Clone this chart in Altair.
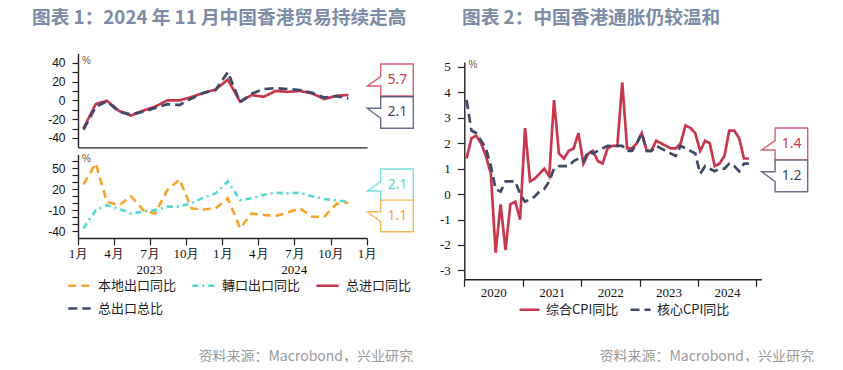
import altair as alt
import pandas as pd

# ------------------------------------------------------------------ data
title_left = "图表 1：2024 年 11 月中国香港贸易持续走高"
title_right = "图表 2：中国香港通胀仍较温和"
source_text = "资料来源：Macrobond，兴业研究"

trade_series = ["本地出口同比", "轉口出口同比", "总进口同比", "总出口总比"]
cpi_series = ["综合CPI同比", "核心CPI同比"]

trade_months = [f"{y}-{m:02d}-15" for y in (2023, 2024) for m in range(1, 13)][:23]
total_import_yoy = [-29.5, -3.9, -0.4, -11.3, -16.2, -10.9, -6.7, 0.0, 0.0, 3.5, 8.0, 11.5,
                    22.0, -1.5, 5.6, 3.8, 10.0, 9.0, 10.0, 7.4, 1.4, 4.9, 5.7]
total_export_yoy = [-31.0, -7.0, -1.0, -12.0, -15.0, -12.0, -8.0, -4.0, -5.0, 2.0, 8.0, 11.0,
                    30.0, -2.0, 7.0, 12.0, 13.0, 12.0, 11.0, 8.0, 3.0, 4.5, 2.1]
domestic_export_yoy = [27.0, 57.0, 2.0, -3.0, 10.0, -10.0, -15.0, 19.0, 34.0, -7.5, -9.0, -7.5,
                       7.0, -36.0, -15.0, -17.0, -18.5, -13.0, -7.5, -19.5, -19.5, -1.3, 1.1]
re_export_yoy = [-36.0, -10.0, -3.0, -8.0, -15.0, -12.0, -10.0, -5.0, -5.0, 0.0, 8.0, 14.0,
                 31.0, 4.5, 7.0, 12.0, 15.0, 14.0, 15.0, 10.0, 6.0, 4.0, 2.1]

cpi_months = [f"{y}-{m:02d}-15" for y in range(2020, 2025) for m in range(1, 13)][:59]
composite_cpi_yoy = [1.4, 2.2, 2.3, 2.0, 1.5, 0.8, -2.3, -0.4, -2.2, -0.4, -0.3, -1.0,
                     2.6, 0.5, 0.6, 0.8, 1.0, 0.7, 3.7, 1.6, 1.4, 1.7, 1.8, 2.4,
                     1.2, 1.6, 1.7, 1.3, 1.2, 1.8, 1.9, 1.9, 4.4, 1.8, 1.8, 2.0,
                     2.4, 1.7, 1.7, 2.1, 2.0, 1.9, 1.8, 1.8, 2.0, 2.7, 2.6, 2.4,
                     1.7, 2.1, 2.0, 1.1, 1.2, 1.5, 2.5, 2.5, 2.2, 1.4, 1.4]
core_cpi_yoy = [3.7, 2.5, 2.4, 2.1, 1.8, 1.1, 0.2, 0.1, 0.5, 0.5, 0.5, 0.0,
                -0.3, -0.2, -0.1, 0.1, 0.2, 0.5, 1.0, 1.1, 1.1, 1.1, 1.3, 1.4,
                1.3, 1.7, 1.6, 1.7, 1.8, 1.9, 1.9, 1.9, 1.9, 1.7, 1.7, 2.0,
                2.4, 1.7, 1.7, 1.9, 1.8, 1.7, 1.6, 1.5, 1.9, 1.8, 1.7, 1.6,
                0.8, 1.1, 1.0, 0.9, 1.0, 1.0, 1.2, 1.1, 0.9, 1.2, 1.2]

left_tick_months = [(2023, 1), (2023, 4), (2023, 7), (2023, 10),
                    (2024, 1), (2024, 4), (2024, 7), (2024, 10), (2025, 1)]
left_year_dates = ["2023-07-01", "2024-07-01"]
left_year_labels = ["2023", "2024"]
right_year_ticks = [2020, 2021, 2022, 2023, 2024, 2025]

# ------------------------------------------------------------------ styles
RED, NAVY, ORANGE, CYAN = "#c9374f", "#3e4a68", "#f5a52b", "#52d8d1"
TITLE_C, SRC_C, AX_C = "#7c8ba6", "#9a9a9a", "#222222"
CJK = "Noto Sans CJK SC"
W, H = 827, 354


def vx(p):
    """page pixel -> view pixel (8px page margin)"""
    return p - 8


def dt(y, m, d=1):
    return alt.DateTime(year=y, month=m, date=d)


common_axis = dict(grid=False, title=None, domainColor=AX_C, tickColor=AX_C,
                   domainWidth=1.4, tickWidth=1.2, labelColor="#111", labelFlush=False,
                   labelOverlap=False)

# ---------------------------------------------------------------- left top
trade_color = alt.Scale(domain=trade_series, range=[ORANGE, CYAN, RED, NAVY])
trade_dash = alt.Scale(domain=trade_series, range=[[8, 5], [6, 4, 2, 4], [1, 0], [9, 5]])

left_legend = alt.Legend(orient="none", legendX=vx(67), legendY=vx(273), columns=3,
                         direction="horizontal",
                         title=None, symbolType="stroke", symbolSize=500,
                         symbolStrokeWidth=2.6, labelFont=CJK, labelFontSize=13,
                         labelColor="#222", columnPadding=10, rowPadding=3,
                         labelOffset=6, padding=0, labelLimit=300)

tl_df = pd.DataFrame({
    "date": trade_months * 2,
    "value": total_import_yoy + total_export_yoy,
    "series": [trade_series[2]] * 23 + [trade_series[3]] * 23,
})

left_x_domain = [dt(2023, 1), dt(2025, 1)]
left_x_range = [vx(78), vx(367)]

top_left = alt.Chart(tl_df).mark_line(strokeWidth=2.7).encode(
    x=alt.X("date:T", scale=alt.Scale(domain=left_x_domain, range=left_x_range),
            axis=alt.Axis(orient="bottom", offset=vx(147.4) - H, labels=False, ticks=False,
                          **common_axis)),
    y=alt.Y("value:Q", scale=alt.Scale(domain=[-50, 50], range=[vx(147.4), vx(53.3)],
                                       nice=False, zero=False),
            axis=alt.Axis(orient="left", offset=-vx(78), values=list(range(-40, 41, 10)),
                          labelExpr="datum.value % 20 == 0 ? '' + datum.value : ''",
                          tickSize=6, labelPadding=7, labelFont="Liberation Sans",
                          labelFontSize=12, **common_axis)),
    color=alt.Color("series:N", scale=trade_color, legend=left_legend),
    strokeDash=alt.StrokeDash("series:N", scale=trade_dash, legend=left_legend),
    order=alt.Order("series:N", sort="descending"),
)

# ------------------------------------------------------------- left bottom
bl_df = pd.DataFrame({
    "date": trade_months * 2,
    "value": domestic_export_yoy + re_export_yoy,
    "series": [trade_series[0]] * 23 + [trade_series[1]] * 23,
})

bottom_lines = alt.Chart(bl_df).mark_line(strokeWidth=2.6).encode(
    x=alt.X("date:T", scale=alt.Scale(domain=left_x_domain, range=left_x_range),
            axis=alt.Axis(orient="bottom", offset=vx(238) - H,
                          values=[dt(y, m) for y, m in left_tick_months],
                          labelExpr="(month(datum.value) + 1) + '月'",
                          tickSize=7, labelPadding=2, labelFont="Liberation Serif",
                          labelFontSize=13, **common_axis)),
    y=alt.Y("value:Q", scale=alt.Scale(domain=[-50, 70], range=[vx(238), vx(154.4)],
                                       nice=False, zero=False),
            axis=alt.Axis(orient="left", offset=-vx(78), values=list(range(-40, 61, 10)),
                          labelExpr="(datum.value + 40) % 30 == 0 ? '' + datum.value : ''",
                          tickSize=6, labelPadding=7, labelFont="Liberation Sans",
                          labelFontSize=12, **common_axis)),
    color=alt.Color("series:N", scale=trade_color, legend=None),
    strokeDash=alt.StrokeDash("series:N", scale=trade_dash, legend=None),
)

yr_df = pd.DataFrame({"date": left_year_dates, "label": left_year_labels})
bottom_years = alt.Chart(yr_df).mark_text(font="Liberation Serif", fontSize=13,
                                          color="#111").encode(
    x=alt.X("date:T"), y=alt.value(vx(270)), text="label:N")

bottom_left = alt.layer(bottom_lines, bottom_years)

# ------------------------------------------------------------------- right
cpi_df = pd.DataFrame({
    "date": cpi_months * 2,
    "value": composite_cpi_yoy + core_cpi_yoy,
    "series": [cpi_series[0]] * 59 + [cpi_series[1]] * 59,
})
right_legend = alt.Legend(orient="none", legendX=vx(518), legendY=vx(298), columns=2,
                          direction="horizontal",
                          title=None, symbolType="stroke", symbolSize=400,
                          symbolStrokeWidth=2.6, labelFont=CJK, labelFontSize=13,
                          labelColor="#222", columnPadding=6, labelOffset=5, padding=0,
                          labelLimit=300)
cpi_color = alt.Scale(domain=cpi_series, range=[RED, NAVY])
cpi_dash = alt.Scale(domain=cpi_series, range=[[1, 0], [9, 5]])

right_chart = alt.Chart(cpi_df).mark_line(strokeWidth=2.7).encode(
    x=alt.X("date:T", scale=alt.Scale(domain=[dt(2020, 1), dt(2025, 2)],
                                      range=[vx(464.3), vx(761.4)]),
            axis=alt.Axis(orient="bottom", offset=vx(279.3) - H,
                          values=[dt(y, 1) for y in right_year_ticks],
                          labelExpr="year(datum.value) < 2025 ? '' + year(datum.value) : ''",
                          labelOffset=29, tickSize=7, labelPadding=0,
                          labelFont="Liberation Serif", labelFontSize=13, **common_axis)),
    y=alt.Y("value:Q", scale=alt.Scale(domain=[-3.35, 5.2], range=[vx(279.3), vx(61.9)],
                                       nice=False, zero=False),
            axis=alt.Axis(orient="left", offset=-vx(464.3), values=list(range(-3, 6)),
                          labelExpr="'' + datum.value",
                          tickSize=7, labelPadding=7, labelFont="Liberation Serif",
                          labelFontSize=13, **common_axis)),
    color=alt.Color("series:N", scale=cpi_color, legend=right_legend),
    strokeDash=alt.StrokeDash("series:N", scale=cpi_dash, legend=right_legend),
    order=alt.Order("series:N", sort="descending"),
)


# ------------------------------------------------------------ annotations
def text_mark(txt, x, y, **kw):
    return alt.Chart(alt.Data(values=[{"t": txt}])).mark_text(**kw).encode(
        x=alt.value(vx(x)), y=alt.value(vx(y)), text="t:N")


texts = [
    text_mark(title_left, 32, 18, font=CJK, fontSize=18.7, fontWeight="bold",
              color=TITLE_C, align="left", baseline="middle"),
    text_mark(title_right, 462, 18, font=CJK, fontSize=18.7, fontWeight="bold",
              color=TITLE_C, align="left", baseline="middle"),
    text_mark(source_text, 413, 357, font=CJK, fontSize=14, color=SRC_C,
              align="right", baseline="middle"),
    text_mark(source_text, 814, 357, font=CJK, fontSize=14, color=SRC_C,
              align="right", baseline="middle"),
    text_mark("%", 86.5, 61, font="Liberation Sans", fontSize=10, color="#6b5a44"),
    text_mark("%", 86.5, 159, font="Liberation Sans", fontSize=10, color="#6b5a44"),
    text_mark("%", 473, 65, font="Liberation Sans", fontSize=10, color="#6b5a44"),
]

UPPER = "M13.4,-22L46,-22L46,10L13.4,10L13.4,0L0,0L13.4,-9.3Z"
LOWER = "M13.4,-11.6L46,-11.6L46,20L13.4,20L13.4,10L0,0L13.4,0Z"


def callout(value, color, tip_x, tip_y, upper):
    d = alt.Data(values=[{"t": f"{value:.1f}"}])
    box = alt.Chart(d).mark_point(shape=UPPER if upper else LOWER, size=4, filled=True,
                                  fill="white", fillOpacity=1, stroke=color,
                                  strokeOpacity=0.8, strokeWidth=1.4, opacity=1).encode(
        x=alt.value(vx(tip_x)), y=alt.value(vx(tip_y)))
    lab = alt.Chart(d).mark_text(font="Noto Sans", fontSize=14, color=color,
                                 baseline="middle").encode(
        x=alt.value(vx(tip_x) + 30), y=alt.value(vx(tip_y) + (-6 if upper else 4)),
        text="t:N")
    return [box, lab]


callouts = (callout(total_import_yoy[-1], RED, 367.3, 86, True)
            + callout(total_export_yoy[-1], NAVY, 367.3, 108.3, False)
            + callout(re_export_yoy[-1], CYAN, 367.3, 191, True)
            + callout(domestic_export_yoy[-1], ORANGE, 367.3, 211.7, False)
            + callout(composite_cpi_yoy[-1], RED, 761.7, 150, True)
            + callout(core_cpi_yoy[-1], NAVY, 761.7, 171.7, False))

chart = alt.layer(top_left, bottom_left, right_chart, *texts, *callouts).resolve_scale(
    x="independent", y="independent", color="independent", strokeDash="independent"
).properties(
    width=W, height=H, padding=0, autosize=alt.AutoSizeParams(type="none"),
    background="white",
).configure_view(stroke=None)

chart.save("out.html", embed_options={"renderer": "svg", "actions": False})
